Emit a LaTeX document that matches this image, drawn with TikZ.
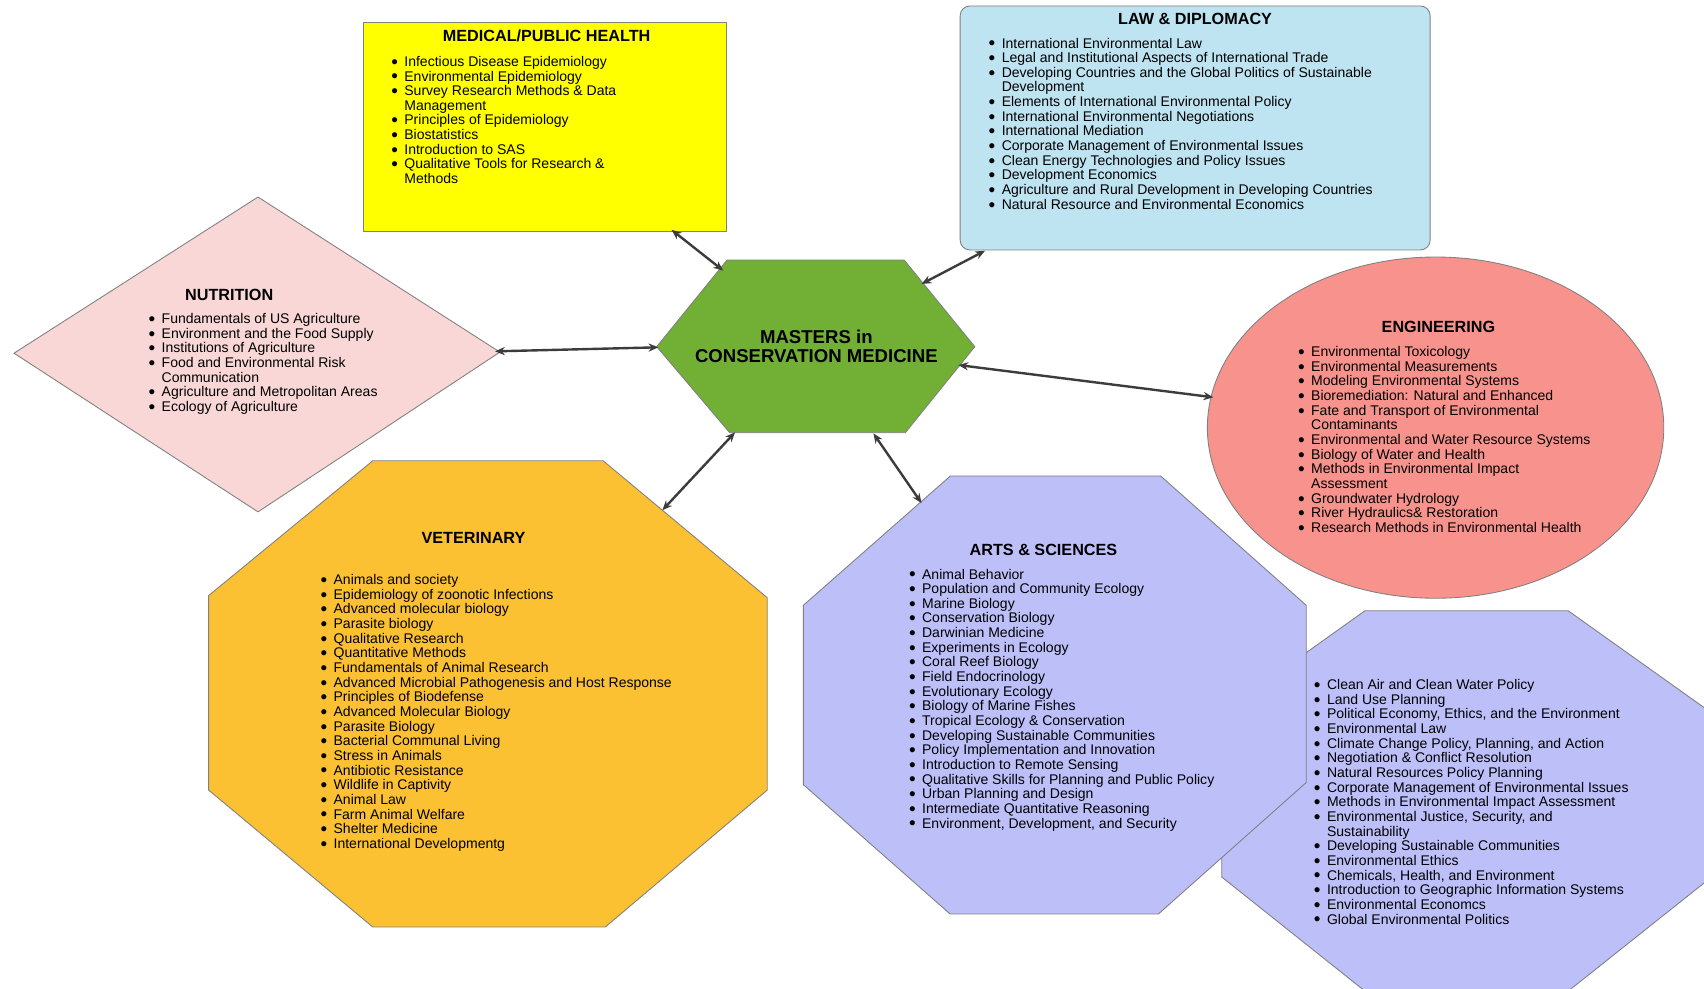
\documentclass[tikz,border=0pt]{standalone}
\usepackage{fontspec}
\setmainfont{Liberation Sans}
\usetikzlibrary{arrows.meta}
\definecolor{cMed}{HTML}{FFFF00}
\definecolor{cLaw}{HTML}{BEE3F1}
\definecolor{cNut}{HTML}{F9D7D7}
\definecolor{cHex}{HTML}{72AF35}
\definecolor{cEng}{HTML}{F7938C}
\definecolor{cVet}{HTML}{FBC132}
\definecolor{cLav}{HTML}{BDBFF9}
\definecolor{cBorder}{HTML}{808080}
\definecolor{cArrow}{HTML}{3C3C3C}
\newcommand\bl{\makebox[11.2pt][l]{\hspace{-0.8pt}\raisebox{-1.7pt}{\scalebox{1.35}{\textbullet}}}}
\newcommand\cl{\hspace*{11.2pt}}
\newcommand\fs{\rule{0pt}{11pt}}
\begin{document}
\begin{tikzpicture}[x=1pt,y=-1pt,
  shapebox/.style={draw=cBorder, line width=0.8pt},
  listtext/.style={anchor=north west, inner sep=0pt, outer sep=0pt, align=left,
    font=\fontsize{12.9}{13.48}\selectfont},
  heading/.style={anchor=base, inner sep=0pt, font=\bfseries\fontsize{14.9}{15}\selectfont},
  centertext/.style={anchor=base, inner sep=0pt, font=\bfseries\fontsize{17.1}{17}\selectfont},
  link/.style={draw=cArrow, line width=2.2pt,
    {Stealth[length=9pt,width=7.5pt]}-{Stealth[length=9pt,width=7.5pt]}}]
\useasboundingbox (0,0) rectangle (1568,910);
\clip (0,0) rectangle (1568,910);
\fill[white] (0,0) rectangle (1568,910);

% ---------- shapes ----------
% right lavender octagon (beneath Arts & Sciences)
\draw[shapebox, fill=cLav] (1256,562) -- (1443,562) -- (1575,656) -- (1575,807)
  -- (1443,912) -- (1256,912) -- (1124.2,807) -- (1124.2,656) -- cycle;
% Arts & Sciences octagon
\draw[shapebox, fill=cLav] (874.5,438) -- (1068,438) -- (1202,557) -- (1202,720)
  -- (1066,841) -- (874.2,841) -- (739.2,722) -- (739.2,557) -- cycle;
% Veterinary octagon
\draw[shapebox, fill=cVet] (343,424) -- (555,424) -- (706,550) -- (706,727)
  -- (557,853) -- (343,853) -- (192,727) -- (192,548) -- cycle;
% Medical / public health rectangle
\draw[shapebox, fill=cMed] (334,21) rectangle (668,212.6);
% Law & diplomacy rounded rectangle
\draw[shapebox, fill=cLaw, rounded corners=9pt] (883.5,5.5) rectangle (1316,230);
% Nutrition diamond
\draw[shapebox, fill=cNut] (237.4,181.3) -- (460,324) -- (237.4,471) -- (12.9,325) -- cycle;
% Engineering ellipse
\draw[shapebox, fill=cEng] (1321,393.5) ellipse [x radius=210pt, y radius=157pt];
% Centre hexagon
\draw[shapebox, fill=cHex] (669,239.3) -- (832,239.3) -- (897,319) -- (833,398.2)
  -- (671.5,398.2) -- (604.3,319) -- cycle;

% ---------- titles ----------
\node[heading] (medT) at (503,38.4) {MEDICAL/PUBLIC HEALTH};
\node[heading] (lawT) at (1099.7,22.2) {LAW \& DIPLOMACY};
\node[heading] (nutT) at (210.9,276.8) {NUTRITION};
\node[heading] (engT) at (1323.6,305.9) {ENGINEERING};
\node[heading] (vetT) at (435.7,500.3) {VETERINARY};
\node[heading] (artT) at (960.2,510.8) {ARTS \& SCIENCES};
\node[centertext] (hexT1) at (751.2,316.5) {MASTERS in};
\node[centertext] (hexT2) at (751.2,333.7) {CONSERVATION MEDICINE};

% ---------- lists ----------
\node[listtext] (medL) at (360.9,50.1) {\fs\bl Infectious Disease Epidemiology\\
\bl Environmental Epidemiology\\
\bl Survey Research Methods \& Data\\
\cl Management\\
\bl Principles of Epidemiology\\
\bl Biostatistics\\
\bl Introduction to SAS\\
\bl Qualitative Tools for Research \&\\
\cl Methods};

\node[listtext] (lawL) at (910.6,33.2) {\fs\bl International Environmental Law\\
\bl Legal and Institutional Aspects of International Trade\\
\bl Developing Countries and the Global Politics of Sustainable\\
\cl Development\\
\bl Elements of International Environmental Policy\\
\bl International Environmental Negotiations\\
\bl International Mediation\\
\bl Corporate Management of Environmental Issues\\
\bl Clean Energy Technologies and Policy Issues\\
\bl Development Economics\\
\bl Agriculture and Rural Development in Developing Countries\\
\bl Natural Resource and Environmental Economics};

\node[listtext] (nutL) at (137.6,286.8) {\fs\bl Fundamentals of US Agriculture\\
\bl Environment and the Food Supply\\
\bl Institutions of Agriculture\\
\bl Food and Environmental Risk\\
\cl Communication\\
\bl Agriculture and Metropolitan Areas\\
\bl Ecology of Agriculture};

\node[listtext] (engL) at (1195.3,317.2) {\fs\bl Environmental Toxicology\\
\bl Environmental Measurements\\
\bl Modeling Environmental Systems\\
\bl Bioremediation: Natural and Enhanced\\
\bl Fate and Transport of Environmental\\
\cl Contaminants\\
\bl Environmental and Water Resource Systems\\
\bl Biology of Water and Health\\
\bl Methods in Environmental Impact\\
\cl Assessment\\
\bl Groundwater Hydrology\\
\bl River Hydraulics\& Restoration\\
\bl Research Methods in Environmental Health};

\node[listtext] (vetL) at (295.8,527) {\fs\bl Animals and society\\
\bl Epidemiology of zoonotic Infections\\
\bl Advanced molecular biology\\
\bl Parasite biology\\
\bl Qualitative Research\\
\bl Quantitative Methods\\
\bl Fundamentals of Animal Research\\
\bl Advanced Microbial Pathogenesis and Host Response\\
\bl Principles of Biodefense\\
\bl Advanced Molecular Biology\\
\bl Parasite Biology\\
\bl Bacterial Communal Living\\
\bl Stress in Animals\\
\bl Antibiotic Resistance\\
\bl Wildlife in Captivity\\
\bl Animal Law\\
\bl Farm Animal Welfare\\
\bl Shelter Medicine\\
\bl International Developmentg};

\node[listtext] (artL) at (837.3,521.8) {\fs\bl Animal Behavior\\
\bl Population and Community Ecology\\
\bl Marine Biology\\
\bl Conservation Biology\\
\bl Darwinian Medicine\\
\bl Experiments in Ecology\\
\bl Coral Reef Biology\\
\bl Field Endocrinology\\
\bl Evolutionary Ecology\\
\bl Biology of Marine Fishes\\
\bl Tropical Ecology \& Conservation\\
\bl Developing Sustainable Communities\\
\bl Policy Implementation and Innovation\\
\bl Introduction to Remote Sensing\\
\bl Qualitative Skills for Planning and Public Policy\\
\bl Urban Planning and Design\\
\bl Intermediate Quantitative Reasoning\\
\bl Environment, Development, and Security};

\node[listtext] (polL) at (1209.9,623.6) {\fs\bl Clean Air and Clean Water Policy\\
\bl Land Use Planning\\
\bl Political Economy, Ethics, and the Environment\\
\bl Environmental Law\\
\bl Climate Change Policy, Planning, and Action\\
\bl Negotiation \& Conflict Resolution\\
\bl Natural Resources Policy Planning\\
\bl Corporate Management of Environmental Issues\\
\bl Methods in Environmental Impact Assessment\\
\bl Environmental Justice, Security, and\\
\cl Sustainability\\
\bl Developing Sustainable Communities\\
\bl Environmental Ethics\\
\bl Chemicals, Health, and Environment\\
\bl Introduction to Geographic Information Systems\\
\bl Environmental Economcs\\
\bl Global Environmental Politics};

% ---------- connector end points ----------
\coordinate (medP) at (618,211.5);
\coordinate (hexMed) at (665.5,249);
\coordinate (lawP) at (906.4,230.7);
\coordinate (hexLaw) at (848,261.3);
\coordinate (nutP) at (455.5,323.3);
\coordinate (hexNut) at (605.8,319.6);
\coordinate (engP) at (1116.5,365.6);
\coordinate (hexEng) at (881.9,335.9);
\coordinate (vetP) at (609.5,469.5);
\coordinate (hexVet) at (676.4,397.8);
\coordinate (artP) at (848,463);
\coordinate (hexArt) at (803.7,398.8);

% ---------- connectors ----------
\draw[link] (medP) -- (hexMed);
\draw[link] (lawP) -- (hexLaw);
\draw[link] (nutP) -- (hexNut);
\draw[link] (engP) -- (hexEng);
\draw[link] (vetP) -- (hexVet);
\draw[link] (artP) -- (hexArt);
\end{tikzpicture}
\end{document}
